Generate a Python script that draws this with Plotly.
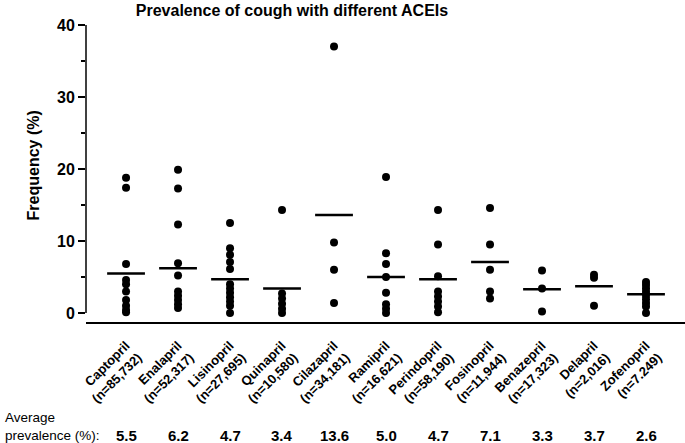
import plotly.graph_objects as go

drugs = ["Captopril", "Enalapril", "Lisinopril", "Quinapril", "Cilazapril", "Ramipril",
         "Perindopril", "Fosinopril", "Benazepril", "Delapril", "Zofenopril"]
n_labels = ["(n=85,732)", "(n=52,317)", "(n=27,695)", "(n=10,580)", "(n=34,181)", "(n=16,621)",
            "(n=58,190)", "(n=11,944)", "(n=17,323)", "(n=2,016)", "(n=7.249)"]
avg_prev = [5.5, 6.2, 4.7, 3.4, 13.6, 5.0, 4.7, 7.1, 3.3, 3.7, 2.6]

captopril = [18.8, 17.4, 6.8, 4.6, 4.0, 3.0, 1.8, 1.0, 0.4, 0.1]
enalapril = [19.9, 17.3, 12.3, 6.9, 5.2, 3.0, 2.4, 1.8, 1.2, 0.7]
lisinopril = [12.5, 9.0, 8.1, 7.1, 6.1, 4.0, 3.4, 2.8, 2.2, 1.6, 1.0, 0.0]
quinapril = [14.3, 2.7, 2.0, 1.3, 0.6, 0.0]
cilazapril = [37.0, 9.8, 6.0, 1.4]
ramipril = [18.9, 8.3, 6.8, 5.0, 2.8, 1.2, 0.6, 0.0]
perindopril = [14.3, 9.5, 5.1, 3.0, 2.3, 1.6, 0.9, 0.1]
fosinopril = [14.6, 9.5, 6.0, 3.0, 2.0]
benazepril = [5.9, 3.4, 0.2]
delapril = [5.3, 4.9, 1.0]
zofenopril = [4.3, 3.9, 3.4, 2.9, 2.4, 1.9, 1.4, 0.9, 0.0]

groups = [captopril, enalapril, lisinopril, quinapril, cilazapril, ramipril,
          perindopril, fosinopril, benazepril, delapril, zofenopril]

FONT = "Liberation Sans, Arial, sans-serif"

xs, ys = [], []
for i, g in enumerate(groups):
    xs += [i] * len(g)
    ys += g

fig = go.Figure()
fig.add_trace(go.Scatter(x=xs, y=ys, mode="markers",
                         marker=dict(color="black", size=8), showlegend=False,
                         hoverinfo="y"))
fig.add_trace(go.Scatter(x=list(range(len(drugs))), y=avg_prev, mode="markers",
                         marker=dict(symbol="line-ew", size=27, color="black",
                                     line=dict(width=2.5, color="black")),
                         showlegend=False))

# y-axis line from 0 to 40 only
fig.add_shape(type="line", xref="paper", yref="y", x0=0, x1=0, y0=0, y1=40,
              line=dict(color="black", width=1.5))

ticktext = [f"{d}<br>{n}" for d, n in zip(drugs, n_labels)]

fig.update_layout(
    width=685, height=443,
    margin=dict(l=86, r=0, t=25, b=121, autoexpand=False),
    paper_bgcolor="white", plot_bgcolor="white",
    font=dict(family=FONT, color="black"),
    title=dict(text="<b>Prevalence of cough with different ACEIs</b>",
               x=292 / 685, xanchor="center", y=1 - 10 / 443, yanchor="middle",
               font=dict(size=16, family=FONT, color="black")),
    xaxis=dict(range=[-0.77, 10.75], tickmode="array",
               tickvals=list(range(len(drugs))), ticktext=ticktext,
               tickangle=-45, tickfont=dict(size=13, weight="bold"),
               ticklabelstandoff=9,
               showgrid=False, zeroline=False, showline=True,
               linecolor="black", linewidth=2, ticks="", automargin=False),
    yaxis=dict(range=[-1.25, 40], tickvals=[0, 10, 20, 30, 40],
               ticks="outside", ticklen=7, tickwidth=1.5, tickcolor="black",
               minor=dict(tickvals=[5, 15, 25, 35], ticks="outside", ticklen=4,
                          tickwidth=1.5, tickcolor="black"),
               tickfont=dict(size=16, weight="bold"),
               showgrid=False, zeroline=False, showline=False, automargin=False),
)

# y-axis title
fig.add_annotation(text="<b>Frequency (%)</b>", xref="paper", yref="y",
                   x=-53 / 599, y=20.5, textangle=-90, showarrow=False,
                   xanchor="center", yanchor="middle",
                   font=dict(size=16, family=FONT))

# bottom row
fig.add_annotation(text="Average<br>prevalence (%):", xref="paper", yref="paper",
                   x=-83 / 599, y=0, xanchor="left", yanchor="top",
                   yshift=-86, align="left", showarrow=False,
                   font=dict(size=13.5, family=FONT))
for i, v in enumerate(avg_prev):
    fig.add_annotation(text=f"<b>{v:.1f}</b>", x=i, xref="x", yref="paper", y=0,
                       yanchor="middle", yshift=-113, showarrow=False,
                       font=dict(size=15, family=FONT))

fig.write_html("out.html", config={"displayModeBar": False},
               post_script="document.body.style.margin='0';document.body.style.padding='0';")
